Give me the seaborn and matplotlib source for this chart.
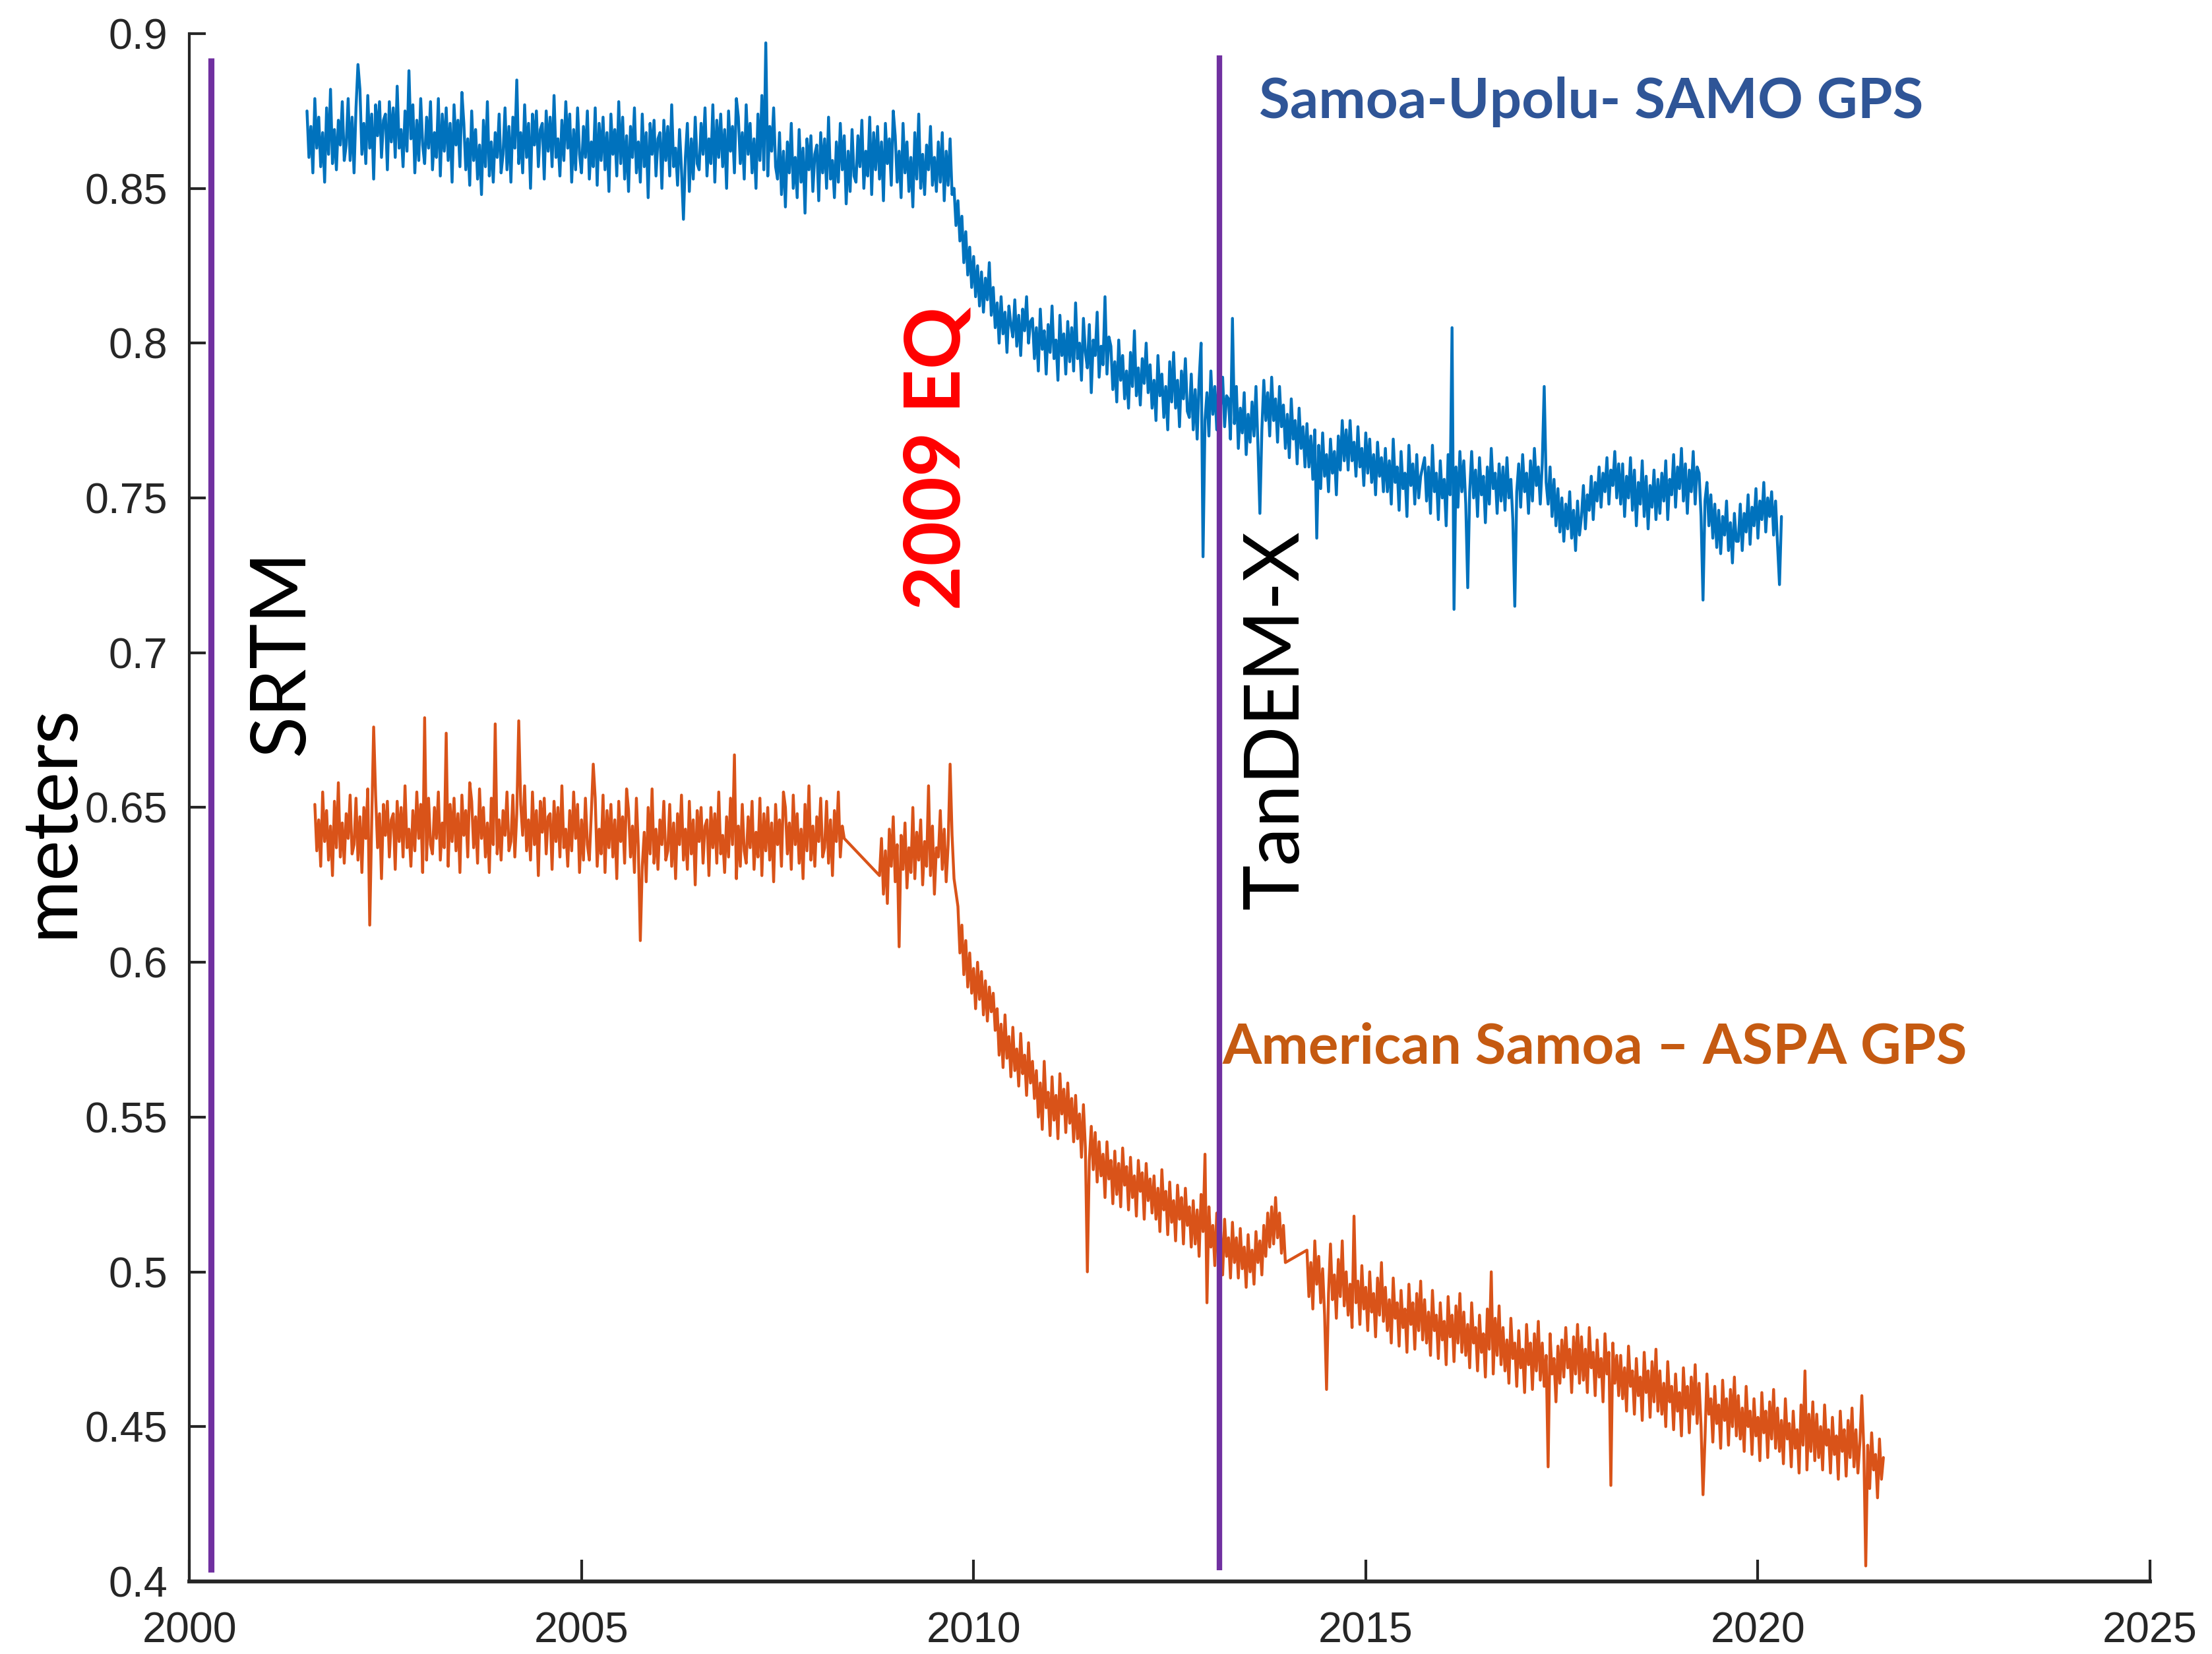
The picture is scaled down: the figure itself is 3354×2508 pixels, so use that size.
import numpy as np
import pandas as pd
import matplotlib
matplotlib.use("Agg")
import matplotlib.pyplot as plt
from matplotlib.ticker import FuncFormatter
import seaborn as sns

# ---------------- data (heights in millimetres) ----------------
STEP = 0.025  # years between samples

# Samoa-Upolu SAMO GPS, before the 2009 earthquake (one row = half a year)
samo_start_pre = 2001.50
samo_pre_eq = [
    875, 860, 870, 855, 879, 863, 873, 857, 868, 852, 876, 861, 882, 858, 869, 856, 872, 864, 878, 859,
    864, 879, 859, 873, 855, 876, 890, 882, 861, 871, 858, 880, 863, 874, 853, 877, 867, 878, 860, 872,
    874, 856, 878, 865, 876, 860, 883, 863, 869, 857, 875, 862, 888, 866, 877, 855, 872, 859, 879, 864,
    858, 873, 863, 878, 856, 868, 860, 879, 854, 874, 862, 876, 859, 871, 852, 877, 864, 872, 857, 881,
    871, 856, 866, 851, 875, 859, 869, 853, 864, 848, 872, 857, 878, 854, 865, 852, 868, 860, 874, 855,
    861, 876, 856, 870, 852, 873, 863, 885, 858, 868, 855, 877, 860, 871, 850, 874, 864, 875, 857, 869,
    871, 853, 875, 862, 873, 857, 880, 860, 866, 854, 872, 859, 878, 863, 874, 852, 869, 856, 876, 861,
    855, 870, 860, 875, 853, 865, 857, 876, 851, 871, 859, 873, 856, 868, 849, 874, 861, 869, 854, 878,
    858, 873, 853, 867, 849, 870, 860, 876, 855, 865, 852, 874, 857, 868, 847, 871, 861, 872, 854, 866,
    868, 850, 872, 859, 870, 854, 877, 857, 863, 851, 869, 856, 840, 860, 871, 849, 866, 853, 873, 858,
    856, 871, 861, 876, 854, 866, 858, 877, 852, 872, 860, 874, 857, 869, 850, 875, 862, 870, 855, 879,
    873, 858, 868, 853, 877, 861, 871, 855, 866, 850, 874, 859, 880, 856, 897, 854, 870, 862, 876, 857,
    853, 868, 848, 862, 844, 865, 855, 871, 850, 860, 847, 869, 852, 863, 842, 866, 856, 867, 849, 861,
    864, 846, 868, 855, 866, 850, 873, 853, 859, 847, 865, 852, 871, 856, 867, 845, 862, 849, 869, 854,
    852, 867, 857, 872, 850, 862, 854, 873, 848, 868, 856, 870, 853, 865, 846, 871, 858, 866, 851, 875,
    867, 852, 862, 847, 871, 855, 865, 849, 860, 844, 868, 853, 874, 850, 861, 848, 864, 856, 870, 851,
    860, 849, 865, 852, 868, 846, 862, 851, 866, 848,
]
# Samoa-Upolu SAMO GPS, after the earthquake
samo_start_post = 2009.75
samo_post_eq = [
    850, 838, 846, 833, 841, 826, 836, 822, 831, 818, 828, 815, 825, 812, 823, 810, 821, 814, 826, 809,
    818, 805, 813, 800, 815, 803, 810, 797, 812, 806, 802, 814, 799, 809, 796, 811, 804, 815, 800, 807,
    808, 795, 805, 791, 811, 798, 804, 790, 806, 797, 812, 795, 801, 788, 809, 796, 803, 790, 807, 794,
    805, 791, 813, 795, 800, 788, 808, 797, 792, 806, 784, 801, 796, 810, 789, 799, 793, 815, 790, 802,
    799, 785, 794, 781, 801, 788, 796, 782, 791, 779, 797, 786, 804, 783, 792, 780, 795, 787, 800, 784,
    793, 779, 788, 775, 796, 783, 790, 776, 786, 772, 794, 781, 797, 779, 788, 773, 791, 782, 795, 778,
    776, 790, 772, 785, 769, 788, 800, 731, 775, 784, 770, 791, 777, 786, 772, 789, 780, 789, 773, 783,
    782, 769, 808, 774, 786, 766, 779, 771, 784, 764, 777, 768, 781, 770, 786, 767, 745, 772, 788, 775,
    784, 770, 789, 775, 782, 768, 786, 773, 780, 766, 777, 763, 782, 769, 775, 761, 779, 766, 773, 760,
    774, 760, 770, 756, 772, 737, 767, 753, 771, 757, 764, 752, 769, 758, 765, 751, 770, 759, 775, 762,
    772, 759, 775, 762, 768, 757, 773, 760, 766, 754, 771, 758, 769, 755, 764, 751, 768, 757, 763, 752,
    766, 752, 762, 748, 769, 755, 760, 746, 765, 753, 758, 744, 767, 754, 761, 748, 764, 750, 757, 760,
    763, 749, 760, 745, 767, 752, 758, 743, 762, 750, 756, 741, 764, 751, 805, 714, 760, 747, 765, 752,
    762, 748, 721, 752, 765, 750, 759, 744, 763, 751, 757, 742, 760, 748, 766, 753, 758, 745, 761, 749,
    760, 746, 763, 750, 756, 743, 715, 752, 761, 747, 764, 752, 758, 745, 762, 749, 766, 754, 760, 748,
    761, 786, 755, 748, 760, 744, 756, 741, 753, 739, 750, 736, 748, 740, 752, 737, 746, 733, 749, 738,
    744, 754, 740, 751, 746, 757, 743, 755, 749, 760, 747, 758, 752, 763, 748, 759, 754, 765, 750, 761,
    748, 761, 744, 757, 750, 763, 746, 759, 741, 755, 748, 762, 744, 757, 740, 754, 747, 759, 743, 756,
    745, 758, 749, 762, 743, 756, 751, 764, 747, 760, 753, 766, 749, 761, 745, 759, 752, 765, 748, 760,
    758, 744, 717, 749, 755, 741, 751, 737, 748, 734, 746, 732, 744, 738, 749, 733, 742, 729, 745, 736,
    736, 748, 733, 745, 739, 751, 735, 747, 741, 753, 737, 749, 743, 755, 739, 750, 744, 752, 738, 749,
    735, 722, 744,
]

# American Samoa ASPA GPS, four recorded stretches (gaps are bridged by the line)
aspa_start_1 = 2001.60
aspa_seg_1 = [
    651, 636, 646, 631, 655, 639, 649, 633, 644, 628, 652, 637, 658, 634, 645, 632, 648, 640, 654, 635,
    638, 653, 633, 647, 629, 650, 640, 656, 612, 645, 676, 654, 637, 648, 627, 651, 641, 652, 634, 646,
    648, 630, 652, 639, 650, 634, 657, 637, 643, 631, 649, 636, 655, 640, 651, 629, 679, 633, 653, 638,
    635, 650, 640, 655, 633, 645, 637, 674, 631, 651, 639, 653, 636, 648, 629, 654, 641, 649, 634, 658,
    652, 637, 647, 632, 656, 640, 650, 634, 645, 629, 653, 638, 677, 635, 646, 633, 649, 641, 655, 636,
    639, 654, 634, 648, 678, 651, 641, 657, 636, 646, 633, 655, 638, 649, 628, 652, 642, 653, 635, 647,
    648, 630, 652, 639, 650, 634, 657, 637, 643, 631, 649, 636, 655, 640, 651, 629, 646, 633, 653, 638,
    633, 648, 664, 653, 631, 643, 635, 654, 629, 649, 637, 651, 634, 646, 627, 652, 639, 647, 632, 656,
    649, 634, 644, 629, 653, 637, 607, 631, 642, 626, 650, 635, 656, 632, 643, 630, 646, 638, 652, 633,
    636, 651, 631, 645, 627, 648, 638, 654, 633, 643, 630, 652, 635, 646, 625, 649, 639, 650, 632, 644,
    646, 628, 650, 637, 648, 632, 655, 635, 641, 629, 647, 634, 653, 638, 667, 627, 644, 631, 651, 636,
    632, 647, 637, 652, 630, 642, 634, 653, 628, 648, 636, 650, 633, 645, 626, 651, 638, 646, 631, 655,
    650, 635, 645, 630, 654, 638, 648, 632, 643, 627, 651, 636, 657, 633, 644, 631, 647, 639, 653, 634,
    637, 652, 632, 646, 628, 649, 639, 655, 634, 644, 640,
]
aspa_start_2 = 2008.80
aspa_seg_2 = [
    628, 640, 622, 636, 619, 643, 631, 647, 626, 638, 605, 641, 630, 645, 624, 637, 629, 650, 627, 642,
    633, 646, 625, 639, 631, 657, 628, 644, 622, 637, 634, 649, 630, 643, 626, 638, 664, 641, 627,
]
aspa_start_3 = 2009.80
aspa_seg_3 = [
    618, 603, 612, 596, 607, 592, 603, 590, 598, 585, 600, 588, 597, 583, 594, 581, 592, 584, 590, 578,
    585, 570, 580, 566, 583, 569, 576, 563, 579, 565, 572, 560, 577, 564, 570, 557, 574, 561, 568, 556,
    565, 550, 561, 546, 568, 553, 558, 544, 563, 549, 557, 543, 564, 551, 559, 545, 561, 548, 556, 542,
    557, 543, 551, 537, 554, 540, 500, 536, 547, 533, 545, 529, 542, 531, 538, 524, 542, 530, 536, 522,
    539, 525, 535, 521, 540, 528, 534, 520, 537, 524, 531, 518, 536, 526, 532, 517, 535, 523, 530, 519,
    531, 517, 527, 513, 533, 520, 526, 512, 529, 516, 523, 510, 528, 517, 524, 509, 527, 515, 521, 508,
    523, 509, 520, 505, 525, 513, 538, 490, 521, 508, 515, 502, 519, 506, 513, 499, 517, 505, 511, 498,
    516, 503, 511, 498, 514, 501, 508, 495, 512, 500, 507, 496, 513, 503, 510, 499, 515, 505, 519, 508,
    521, 509, 524, 511, 519, 506, 515, 503,
]
aspa_start_4 = 2014.25
aspa_seg_4 = [
    507, 492, 503, 488, 510, 496, 505, 490, 501, 486, 462, 493, 509, 491, 499, 485, 504, 492, 510, 489,
    500, 486, 496, 482, 518, 490, 497, 483, 502, 488, 495, 481, 500, 487, 493, 479, 498, 486, 503, 484,
    495, 481, 491, 477, 498, 485, 490, 476, 494, 482, 488, 474, 496, 483, 490, 475, 493, 481, 497, 478,
    491, 477, 487, 473, 494, 481, 486, 472, 490, 478, 484, 470, 492, 479, 486, 471, 489, 477, 493, 474,
    487, 473, 483, 469, 490, 477, 482, 468, 486, 474, 480, 466, 488, 475, 500, 467, 485, 473, 489, 470,
    482, 468, 478, 464, 485, 472, 477, 463, 481, 469, 475, 461, 483, 470, 477, 462, 480, 468, 484, 465,
    477, 463, 473, 437, 480, 467, 472, 458, 476, 464, 478, 466, 482, 469, 475, 461, 479, 467, 483, 464,
    479, 465, 475, 461, 482, 469, 474, 460, 478, 466, 472, 458, 480, 467, 474, 431, 477, 464, 473, 460,
    473, 459, 469, 455, 476, 463, 468, 454, 472, 460, 466, 452, 474, 461, 468, 453, 471, 458, 475, 455,
    468, 454, 464, 450, 471, 458, 463, 449, 467, 455, 461, 447, 469, 456, 463, 448, 466, 454, 470, 451,
    464, 450, 428, 446, 467, 454, 459, 445, 463, 451, 457, 443, 465, 452, 459, 444, 462, 450, 466, 447,
    460, 446, 456, 442, 463, 450, 455, 441, 459, 447, 453, 439, 461, 448, 455, 440, 458, 446, 462, 443,
    456, 442, 452, 438, 459, 446, 451, 437, 455, 443, 449, 435, 457, 444, 468, 436, 454, 442, 458, 439,
    454, 440, 450, 436, 457, 444, 449, 435, 453, 441, 447, 433, 455, 442, 449, 434, 452, 440, 456, 437,
    449, 435, 445, 460, 443, 405, 444, 430, 448, 436, 441, 427, 446, 433, 440,
]

# reference epochs
epoch_years = [2000.28, 2013.13]
epoch_labels = ["SRTM", "TanDEM-X"]

x_ticks = [2000, 2005, 2010, 2015, 2020, 2025]
y_ticks = [0.4, 0.45, 0.5, 0.55, 0.6, 0.65, 0.7, 0.75, 0.8, 0.85, 0.9]


def build(starts, segments):
    years, vals = [], []
    for s, seg in zip(starts, segments):
        years.append(s + STEP * np.arange(len(seg)))
        vals.append(np.asarray(seg, dtype=float) / 1000.0)
    return pd.DataFrame({"year": np.concatenate(years), "m": np.concatenate(vals)})


samo = build([samo_start_pre, samo_start_post], [samo_pre_eq, samo_post_eq])
aspa = build([aspa_start_1, aspa_start_2, aspa_start_3, aspa_start_4],
             [aspa_seg_1, aspa_seg_2, aspa_seg_3, aspa_seg_4])

# ---------------- plotting ----------------
sns.set_style("ticks")
plt.rcParams["font.family"] = ["Liberation Sans", "DejaVu Sans"]

fig = plt.figure(figsize=(3354 / 300, 2508 / 300), dpi=300)
ax = fig.add_axes([0.0856, 0.0439, 0.8864, 0.9358])

sns.lineplot(data=samo, x="year", y="m", ax=ax, color="#0072BD", lw=1.05,
             estimator=None, sort=False, zorder=2)
sns.lineplot(data=aspa, x="year", y="m", ax=ax, color="#D95319", lw=1.05,
             estimator=None, sort=False, zorder=2)

ax.vlines(epoch_years[0], 0.403, 0.892, color="#7030A0", lw=2.2, zorder=3)
ax.vlines(epoch_years[1], 0.4035, 0.893, color="#7030A0", lw=2.0, zorder=3)

ax.set_xlim(2000, 2025)
ax.set_ylim(0.4, 0.9)
ax.set_xticks(x_ticks)
ax.set_yticks(y_ticks)
ax.yaxis.set_major_formatter(FuncFormatter(lambda v, p: f"{v:g}"))
ax.set_xlabel("")
ax.set_ylabel("")

for side in ["top", "right"]:
    ax.spines[side].set_visible(False)
for side in ["left", "bottom"]:
    ax.spines[side].set_color("#262626")
    ax.spines[side].set_linewidth(1.0)
ax.spines["bottom"].set_linewidth(1.4)

ax.tick_params(axis="y", direction="in", length=6, width=1.0, color="#262626",
               labelsize=15.5, labelcolor="#262626", pad=8)
ax.tick_params(axis="x", direction="in", length=8, width=1.0, color="#262626",
               labelsize=15.5, labelcolor="#262626", pad=11)

fig.text(0.023, 0.5036, "meters", rotation=90, ha="center", va="center",
         fontsize=28, family="Lato", color="black")

ax.text(2001.18, 0.700, epoch_labels[0], rotation=90, ha="center", va="center",
        fontsize=28, family="Lato", color="black")
ax.text(2013.86, 0.6783, epoch_labels[1], rotation=90, ha="center", va="center",
        fontsize=28, family="Lato", color="black")
ax.text(2009.54, 0.7627, "2009 EQ", rotation=90, ha="center", va="center",
        fontsize=28, family="Lato", fontweight="bold", color="#FF0000")
ax.text(2013.64, 0.878, "Samoa-Upolu- SAMO GPS", ha="left", va="center",
        fontsize=20.5, family="Lato", fontweight="bold", color="#2F5597")
ax.text(2013.17, 0.5725, "American Samoa \u2013 ASPA GPS", ha="left", va="center",
        fontsize=20.5, family="Lato", fontweight="bold", color="#C55A11")

fig.savefig("out.png", dpi=300, facecolor="white")
